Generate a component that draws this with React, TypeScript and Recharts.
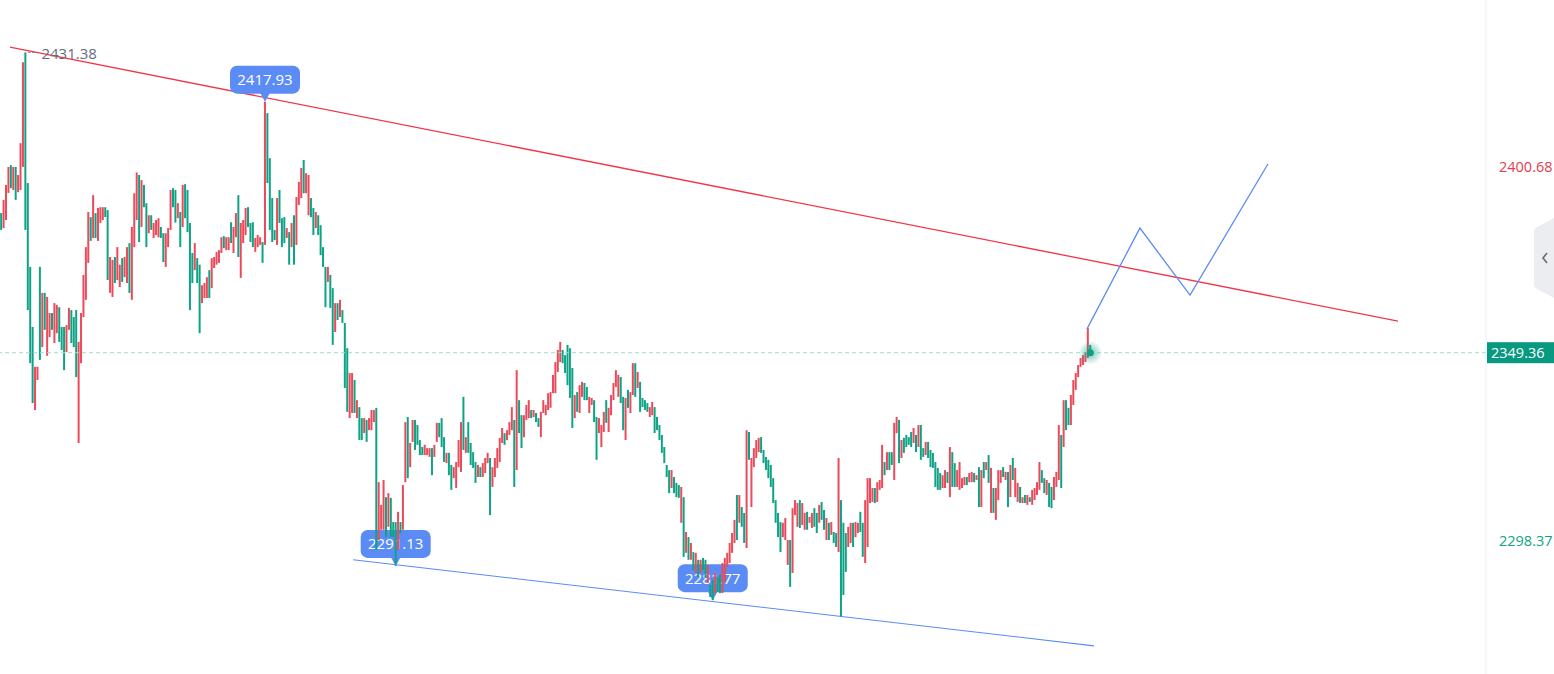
import { ComposedChart, Bar, Line, XAxis, YAxis, ReferenceLine, ReferenceDot } from 'recharts';

// candle extents, one entry per candle (oldest first)
const highs = [
  2387.5, 2391.1, 2395.2, 2400.1, 2400.6, 2400.1, 2400.1, 2397.9, 2406.6, 2428.7,
  2431.38, 2395.7, 2372.8, 2356.4, 2345.5, 2345.5, 2372.8, 2365.7, 2365.7, 2364.6,
  2360.2, 2360.2, 2362.9, 2362.4, 2361.8, 2356.4, 2356.4, 2356.9, 2361.6, 2361.0,
  2359.1, 2361.0, 2352.3, 2360.2, 2370.6, 2378.2, 2387.8, 2386.4, 2392.4, 2387.5,
  2388.9, 2389.1, 2389.1, 2389.1, 2388.3, 2375.5, 2374.7, 2375.5, 2378.2, 2373.4,
  2375.2, 2375.5, 2378.2, 2379.3, 2383.7, 2392.9, 2398.6, 2397.9, 2396.5, 2395.2,
  2390.2, 2386.9, 2386.9, 2384.8, 2385.6, 2386.1, 2383.7, 2382.0, 2382.0, 2383.4,
  2393.8, 2394.3, 2393.8, 2390.2, 2387.8, 2395.2, 2395.4, 2393.8, 2384.8, 2376.6,
  2379.3, 2375.2, 2373.4, 2367.8, 2368.4, 2370.0, 2371.9, 2375.2, 2375.5, 2376.9,
  2377.4, 2380.9, 2381.2, 2380.9, 2380.9, 2385.0, 2383.7, 2387.5, 2392.4, 2384.8,
  2385.6, 2388.9, 2389.1, 2384.8, 2385.0, 2380.7, 2381.5, 2380.9, 2379.6, 2417.93,
  2414.8, 2402.5, 2391.6, 2382.9, 2391.6, 2393.8, 2386.1, 2386.4, 2383.4, 2382.3,
  2384.8, 2386.9, 2391.9, 2396.0, 2399.8, 2402.0, 2398.4, 2397.9, 2391.6, 2388.9,
  2387.8, 2386.9, 2384.2, 2378.2, 2372.8, 2372.8, 2370.6, 2367.0, 2362.9, 2362.9,
  2363.8, 2361.0, 2357.5, 2350.6, 2343.8, 2343.8, 2341.9, 2336.4, 2334.5, 2331.5,
  2331.5, 2331.0, 2331.5, 2333.7, 2333.7, 2334.3, 2314.0, 2307.8, 2314.6, 2309.9,
  2311.0, 2309.7, 2303.1, 2303.1, 2305.9, 2303.1, 2313.2, 2330.4, 2331.8, 2324.7,
  2331.0, 2331.0, 2329.6, 2325.5, 2323.6, 2324.2, 2323.3, 2323.3, 2323.3, 2324.2,
  2330.2, 2330.2, 2331.5, 2326.3, 2322.0, 2322.0, 2318.7, 2318.1, 2319.5, 2325.5,
  2330.4, 2337.3, 2326.3, 2330.4, 2324.7, 2322.2, 2319.5, 2318.7, 2318.1, 2319.2,
  2320.6, 2322.0, 2320.6, 2318.1, 2320.6, 2323.3, 2326.1, 2328.8, 2327.4, 2328.2,
  2330.4, 2334.5, 2331.0, 2344.6, 2336.4, 2332.3, 2332.3, 2335.1, 2336.4, 2333.7,
  2333.7, 2332.9, 2331.5, 2333.2, 2336.4, 2335.1, 2338.3, 2338.6, 2343.3, 2346.8,
  2350.1, 2352.3, 2350.1, 2348.7, 2351.5, 2350.6, 2345.2, 2337.8, 2338.6, 2340.5,
  2341.4, 2341.1, 2340.0, 2337.3, 2337.0, 2336.4, 2331.8, 2331.5, 2329.6, 2333.2,
  2336.4, 2334.3, 2337.8, 2341.1, 2344.6, 2343.3, 2342.7, 2337.3, 2337.0, 2339.2,
  2338.6, 2346.5, 2346.5, 2344.1, 2341.4, 2337.0, 2336.4, 2335.6, 2334.5, 2335.9,
  2334.5, 2331.8, 2329.6, 2326.9, 2323.6, 2318.7, 2317.3, 2317.3, 2315.4, 2313.8,
  2313.2, 2312.7, 2309.9, 2300.4, 2299.0, 2297.4, 2294.9, 2294.7, 2292.8, 2292.8,
  2293.3, 2292.8, 2291.4, 2285.9, 2287.3, 2289.2, 2288.1, 2288.7, 2291.9, 2293.3,
  2294.7, 2297.4, 2300.1, 2303.7, 2310.5, 2310.5, 2307.2, 2305.6, 2328.2, 2327.7,
  2320.6, 2323.3, 2325.5, 2326.1, 2326.3, 2322.8, 2320.9, 2320.1, 2318.7, 2315.1,
  2309.1, 2305.6, 2303.1, 2302.9, 2304.2, 2298.2, 2298.2, 2306.9, 2309.1, 2308.3,
  2309.1, 2308.3, 2305.6, 2305.9, 2304.5, 2305.6, 2306.9, 2305.6, 2307.8, 2308.6,
  2306.4, 2304.2, 2302.9, 2303.1, 2300.4, 2300.1, 2320.6, 2309.1, 2302.9, 2300.1,
  2301.8, 2302.9, 2302.9, 2303.1, 2302.9, 2305.9, 2302.9, 2309.1, 2315.1, 2315.1,
  2312.4, 2312.4, 2314.0, 2314.6, 2324.2, 2319.5, 2322.2, 2322.2, 2322.2, 2330.2,
  2331.8, 2331.0, 2325.5, 2326.1, 2326.9, 2326.3, 2327.7, 2328.8, 2326.9, 2329.6,
  2329.6, 2323.3, 2325.0, 2325.0, 2322.8, 2322.0, 2319.5, 2317.9, 2316.5, 2315.9,
  2317.3, 2316.8, 2323.6, 2322.2, 2319.2, 2317.3, 2319.5, 2315.1, 2315.4, 2315.4,
  2316.5, 2316.8, 2316.5, 2315.9, 2318.1, 2317.3, 2319.5, 2319.5, 2321.4, 2317.9,
  2312.4, 2312.4, 2317.3, 2317.3, 2318.1, 2316.8, 2316.8, 2318.7, 2320.6, 2317.9,
  2313.8, 2312.7, 2309.9, 2310.5, 2310.5, 2309.9, 2311.9, 2312.4, 2314.0, 2319.5,
  2317.3, 2315.1, 2314.6, 2313.8, 2312.7, 2315.4, 2316.8, 2329.6, 2326.9, 2336.4,
  2336.4, 2334.3, 2337.8, 2341.9, 2343.8, 2346.0, 2347.9, 2348.7, 2349.5, 2356.1, 2351.5,
];

const lows = [
  2382.9, 2383.4, 2385.6, 2393.0, 2394.3, 2393.8, 2391.1, 2393.2, 2393.8, 2400.1,
  2382.9, 2361.0, 2346.5, 2335.6, 2333.7, 2341.9, 2347.4, 2350.9, 2355.6, 2348.5,
  2353.6, 2355.6, 2352.0, 2354.7, 2352.3, 2350.1, 2344.6, 2349.5, 2355.6, 2352.0,
  2350.9, 2342.7, 2324.7, 2346.5, 2359.1, 2363.8, 2373.9, 2379.9, 2380.7, 2380.7,
  2379.9, 2384.8, 2385.6, 2386.4, 2369.2, 2365.7, 2364.6, 2368.4, 2369.2, 2367.3,
  2368.7, 2370.0, 2368.4, 2365.7, 2363.8, 2378.2, 2385.6, 2379.6, 2383.7, 2389.1,
  2378.2, 2382.0, 2382.9, 2380.7, 2381.5, 2380.9, 2380.7, 2374.1, 2372.8, 2378.2,
  2382.9, 2389.1, 2384.9, 2386.1, 2378.2, 2383.7, 2386.1, 2382.3, 2361.0, 2368.4,
  2371.9, 2368.4, 2354.7, 2362.9, 2364.3, 2364.3, 2364.3, 2367.0, 2372.5, 2373.4,
  2373.9, 2376.6, 2377.9, 2377.4, 2377.4, 2379.3, 2376.6, 2380.9, 2375.5, 2369.8,
  2379.3, 2381.5, 2383.7, 2379.6, 2378.2, 2376.9, 2378.2, 2378.8, 2373.9, 2378.8,
  2395.7, 2382.9, 2379.6, 2380.1, 2378.8, 2384.8, 2378.2, 2379.3, 2380.7, 2373.4,
  2378.2, 2373.4, 2378.8, 2389.7, 2391.6, 2392.9, 2392.9, 2386.9, 2386.4, 2381.5,
  2383.4, 2381.5, 2376.0, 2372.8, 2361.8, 2368.7, 2361.6, 2351.5, 2355.0, 2358.3,
  2359.1, 2357.5, 2339.7, 2333.2, 2331.5, 2332.9, 2332.9, 2331.5, 2325.5, 2325.5,
  2327.4, 2325.0, 2328.2, 2328.2, 2330.4, 2295.5, 2298.2, 2301.0, 2301.0, 2299.0,
  2301.8, 2299.0, 2299.0, 2291.13, 2295.5, 2300.1, 2301.0, 2314.0, 2315.1, 2318.1,
  2325.0, 2322.8, 2324.2, 2321.4, 2321.4, 2321.4, 2321.4, 2320.9, 2315.9, 2320.9,
  2325.0, 2326.3, 2323.6, 2319.5, 2319.2, 2315.9, 2311.9, 2315.1, 2312.4, 2318.1,
  2316.8, 2322.8, 2322.0, 2322.0, 2318.7, 2317.9, 2313.8, 2315.4, 2315.4, 2315.4,
  2316.5, 2319.2, 2305.0, 2312.7, 2315.4, 2317.9, 2319.5, 2324.7, 2324.2, 2325.5,
  2326.9, 2328.2, 2312.7, 2317.3, 2327.4, 2323.3, 2326.3, 2331.0, 2331.5, 2331.5,
  2331.8, 2330.4, 2329.1, 2326.3, 2332.9, 2332.3, 2333.7, 2334.3, 2338.3, 2338.3,
  2344.1, 2346.8, 2346.5, 2343.8, 2340.5, 2337.0, 2328.8, 2331.5, 2333.2, 2332.9,
  2337.3, 2336.4, 2336.4, 2332.9, 2335.1, 2330.4, 2320.1, 2327.4, 2323.6, 2327.7,
  2330.2, 2327.7, 2332.3, 2336.4, 2340.0, 2337.3, 2335.6, 2328.2, 2325.5, 2334.3,
  2332.9, 2337.8, 2337.3, 2339.7, 2333.2, 2334.5, 2333.7, 2333.2, 2331.8, 2332.3,
  2327.4, 2328.2, 2325.5, 2322.0, 2319.2, 2315.4, 2311.0, 2312.4, 2311.0, 2309.9,
  2309.7, 2302.9, 2293.6, 2294.7, 2292.8, 2292.8, 2290.0, 2289.2, 2288.1, 2289.2,
  2290.0, 2287.8, 2286.5, 2282.6, 2281.77, 2283.7, 2284.0, 2283.7, 2283.7, 2286.8,
  2290.8, 2291.9, 2294.7, 2297.4, 2298.2, 2302.9, 2301.8, 2297.4, 2296.0, 2320.1,
  2307.2, 2318.1, 2320.6, 2322.2, 2322.0, 2319.2, 2317.3, 2315.1, 2312.7, 2308.3,
  2302.9, 2299.0, 2294.9, 2299.0, 2298.2, 2291.4, 2285.4, 2289.2, 2305.0, 2301.8,
  2301.5, 2302.3, 2301.0, 2301.0, 2302.9, 2301.5, 2301.8, 2300.1, 2302.9, 2303.7,
  2301.0, 2298.2, 2298.2, 2299.6, 2297.4, 2296.3, 2294.9, 2277.2, 2283.2, 2289.5,
  2296.3, 2297.4, 2296.3, 2299.0, 2300.1, 2300.4, 2293.6, 2291.9, 2296.3, 2308.3,
  2308.6, 2308.3, 2308.6, 2311.9, 2312.4, 2315.9, 2317.3, 2317.3, 2318.7, 2314.6,
  2327.4, 2319.2, 2320.6, 2322.0, 2323.6, 2324.2, 2323.6, 2324.7, 2322.2, 2323.6,
  2320.1, 2320.9, 2321.4, 2320.6, 2318.1, 2317.9, 2312.7, 2311.9, 2311.9, 2312.4,
  2312.4, 2313.8, 2309.9, 2312.7, 2312.7, 2312.7, 2311.9, 2312.4, 2313.2, 2313.2,
  2314.0, 2314.0, 2314.0, 2314.6, 2307.2, 2307.2, 2315.1, 2317.3, 2313.8, 2305.6,
  2305.6, 2303.7, 2309.1, 2313.8, 2315.4, 2314.6, 2307.2, 2309.9, 2314.6, 2309.9,
  2308.6, 2308.3, 2308.3, 2308.3, 2307.8, 2308.6, 2307.8, 2309.1, 2310.5, 2311.9,
  2313.8, 2311.0, 2310.5, 2307.2, 2306.9, 2309.1, 2312.7, 2314.6, 2312.4, 2323.6,
  2328.2, 2329.6, 2329.6, 2335.1, 2339.2, 2342.7, 2345.5, 2346.0, 2346.8, 2347.9, 2349.36,
];

// r = rising candle (red), g = falling candle (green)
const dirs =
  'grrrgrgrrr' + 'ggggrrgrgr' + 'rgrrgggrrg' + 'ggrrrrrgrg' + 'rrrggrrgrr' +
  'grrgrrrgrg' + 'grgrrrggrr' + 'rggrgrgggg' + 'rggrrrgrrr' + 'rrgrrgrrgr' +
  'rrgggrrrgr' + 'ggggrgggrg' + 'rgrrrgrrgg' + 'rggggrggrg' + 'rgggrrgrgg' +
  'rgrrrgrrrg' + 'rgggrgrrgr' + 'rggggrrrgr' + 'rgggrggrrr' + 'rgrggggrgr' +
  'rrgrrrrrgr' + 'rrgrggrrrg' + 'rggrrrrrrr' + 'rrgggggrgr' + 'rggrrggrrr' +
  'grrrrrggrg' + 'rrgrggggrr' + 'gggggggrgg' + 'grgrgrgrgr' + 'ggrggrggrr' +
  'rrrrgrggrg' + 'rrrrgggggg' + 'gggrrrgrrr' + 'grrgrrggrg' + 'grgrggrggg' +
  'rrgrrggrrr' + 'rgrrrgrggr' + 'rgrggggrgr' + 'ggrggggggr' + 'rgrggrrrrg' +
  'rrgrgrgrgr' + 'grrrgrgrgr' + 'rgrgrgrrrr' + 'ggrggrrrgr' + 'ggrrrrrrrrg';

const totalSlots = 614; // candle slots across the plot, incl. empty future space
const yDomain = [2261.6, 2445.7];
const axisTicks = [2298.37, 2400.68];
const lastPrice = 2349.36;

const topTrend = [{ x: 3.6, y: 2432.8 }, { x: 577.1, y: 2358.0 }];
const bottomTrend = [{ x: 145.4, y: 2292.8 }, { x: 451.5, y: 2269.3 }];
const projIdx = [448.6, 470.5, 491.2, 523.4];
const projPrice = [2355.8, 2383.4, 2365.1, 2400.9];

const markIdx = [109, 163, 294];
const markPrice = [2417.93, 2291.13, 2281.77];
const highIdx = 10;
const highPrice = 2431.38;

const RED = '#ea4b5b';
const GREEN = '#0fa386';
const BLUE = '#5b8cf5';
const FONT = '"Open Sans", "Noto Sans", sans-serif';

const candles = highs.map((h, i) => ({ i, range: [lows[i], h], up: dirs[i] === 'r' }));
const projection = projIdx.map((i, k) => ({ i, v: projPrice[k] }));

function Candle(props: any) {
  const { x, y, width, height, payload } = props;
  if (x == null || y == null) return null;
  const cx = x + width / 2;
  return (
    <rect
      x={cx - 1}
      y={y}
      width={2}
      height={Math.max(Math.abs(height), 1)}
      fill={payload.up ? RED : GREEN}
    />
  );
}

function PriceTick(props: any) {
  const { x, y, payload } = props;
  const color = payload.value > lastPrice ? '#e2404f' : '#12a386';
  return (
    <text x={x + 5} y={y + 7} fill={color} fontSize={14.5} fontFamily={FONT}>
      {payload.value.toFixed(2)}
    </text>
  );
}

function PriceTag(props: any) {
  const { viewBox } = props;
  const x = viewBox.x + viewBox.width;
  const y = viewBox.y;
  return (
    <g>
      <rect x={x + 1} y={y - 10.5} width={67} height={21} fill="#089981" />
      <text x={x + 5} y={y + 5.5} fill="#fff" fontSize={14.5} fontFamily={FONT}>
        {lastPrice.toFixed(2)}
      </text>
    </g>
  );
}

function Bubble(props: any) {
  const { cx, cy, value } = props;
  const w = 70;
  const h = 28;
  return (
    <g>
      <path d={`M${cx - 5},${cy - 9} L${cx + 5},${cy - 9} L${cx},${cy} Z`} fill={BLUE} />
      <rect x={cx - w / 2} y={cy - 8 - h} width={w} height={h} rx={7} fill={BLUE} />
      <text x={cx} y={cy - 8 - h / 2 + 5.5} textAnchor="middle" fill="#fff" fontSize={15} fontFamily={FONT}>
        {value.toFixed(2)}
      </text>
    </g>
  );
}

function HighMark(props: any) {
  const { cx, cy } = props;
  return (
    <g>
      <line x1={cx + 3} y1={cy} x2={cx + 14} y2={cy} stroke="#6f7380" strokeDasharray="2 2" />
      <text x={cx + 16} y={cy + 7} fill="#686c78" fontSize={15} fontFamily={FONT}>
        {highPrice.toFixed(2)}
      </text>
    </g>
  );
}

function GlowDot(props: any) {
  const { cx, cy } = props;
  return (
    <g>
      <defs>
        <radialGradient id="glow">
          <stop offset="0%" stopColor="#12a386" stopOpacity={0.6} />
          <stop offset="100%" stopColor="#12a386" stopOpacity={0} />
        </radialGradient>
      </defs>
      <circle cx={cx} cy={cy} r={12} fill="url(#glow)" />
      <circle cx={cx} cy={cy} r={3.5} fill="#0f9e83" />
    </g>
  );
}

export default function App() {
  return (
    <div style={{ position: 'absolute', left: 0, top: 0, width: 1554, height: 674, background: '#fff' }}>
      <ComposedChart width={1554} height={674} data={candles} margin={{ top: 0, right: 0, bottom: 0, left: 0 }}>
        <XAxis dataKey="i" type="number" domain={[-0.5, totalSlots - 0.5]} hide allowDataOverflow />
        <YAxis
          orientation="right"
          width={68}
          domain={yDomain}
          ticks={axisTicks}
          tick={<PriceTick />}
          tickLine={false}
          axisLine={{ stroke: '#eef0f3' }}
          allowDataOverflow
        />
        <ReferenceLine y={lastPrice} stroke="#9fdccd" strokeDasharray="4 3" label={<PriceTag />} />
        <ReferenceLine segment={topTrend} stroke="#f2364a" strokeWidth={1.3} ifOverflow="visible" zIndex={90} />
        {markIdx.map((i, k) => (
          <ReferenceDot
            key={i}
            x={i}
            y={markPrice[k]}
            shape={(p: any) => <Bubble {...p} value={markPrice[k]} />}
            ifOverflow="visible"
            zIndex={100}
          />
        ))}
        <Bar dataKey="range" barSize={2} shape={<Candle />} isAnimationActive={false} />
        <ReferenceLine segment={bottomTrend} stroke={BLUE} strokeWidth={1.2} ifOverflow="visible" />
        <Line
          data={projection}
          dataKey="v"
          stroke={BLUE}
          strokeWidth={1.3}
          dot={false}
          activeDot={false}
          isAnimationActive={false}
        />
        <ReferenceDot x={candles.length - 1} y={lastPrice} shape={<GlowDot />} ifOverflow="visible" />
        <ReferenceDot x={highIdx} y={highPrice} shape={<HighMark />} ifOverflow="visible" />
      </ComposedChart>
      <svg style={{ position: 'absolute', left: 1534, top: 218 }} width={20} height={80}>
        <path d="M20,0 L20,80 L3,71 Q0,69.5 0,66 L0,14 Q0,10.5 3,9 Z" fill="#ebedf1" />
        <path d="M13,35 L9,40 L13,45" stroke="#666a75" strokeWidth={1.6} fill="none" />
      </svg>
    </div>
  );
}
